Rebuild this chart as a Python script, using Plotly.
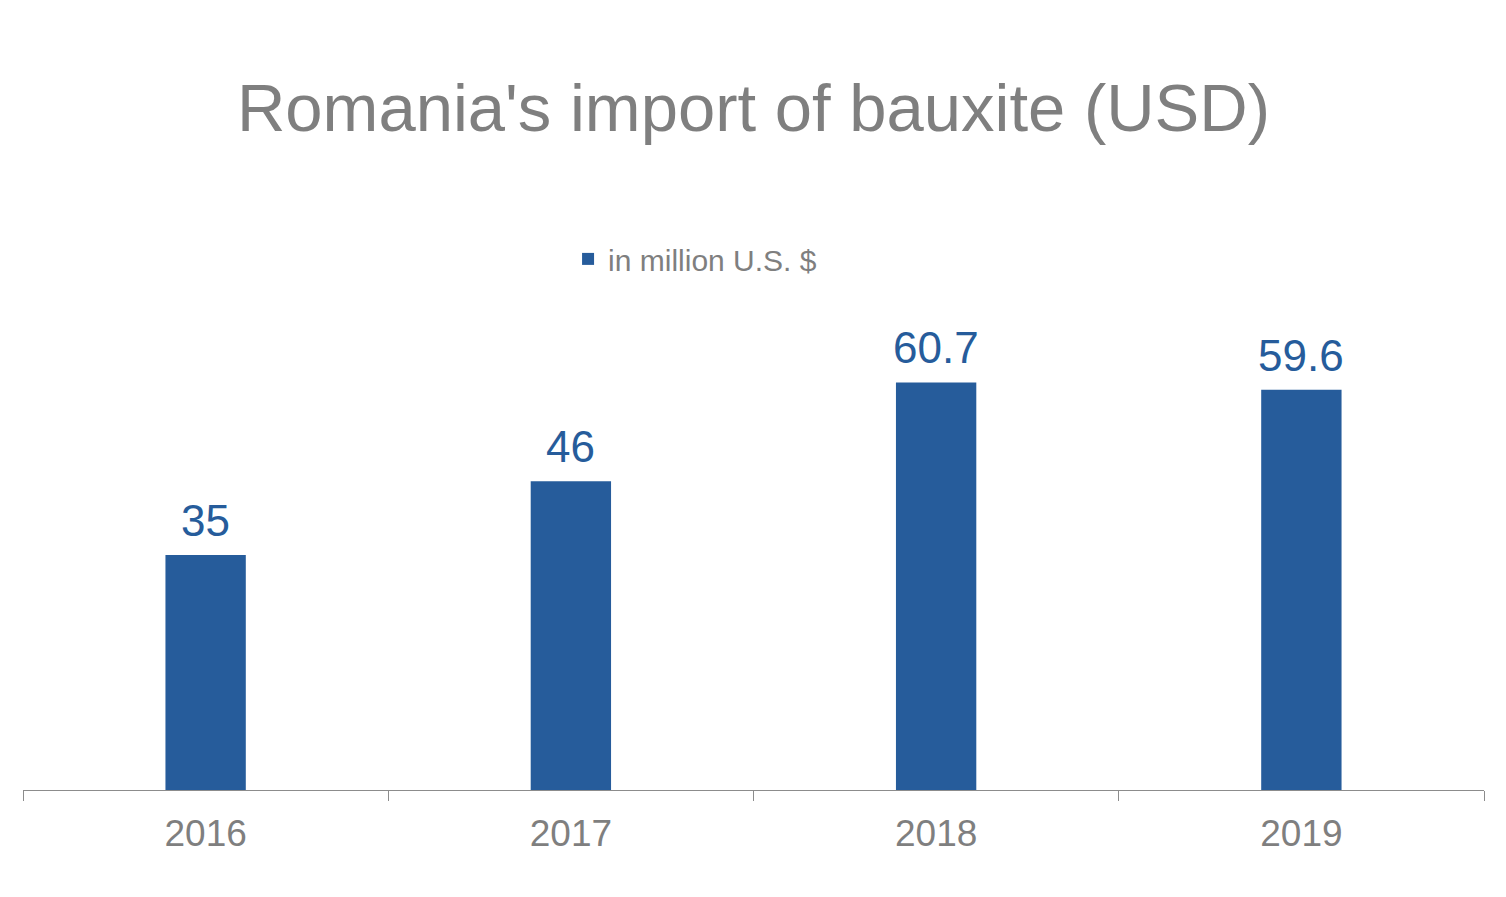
import plotly.graph_objects as go

# --- DATA ---
years = ["2016", "2017", "2018", "2019"]
imports_musd = [35, 46, 60.7, 59.6]
labels = ["35", "46", "60.7", "59.6"]

BAR_COLOR = "#265C9B"
GRAY = "#7F7F7F"
FONT = "Liberation Sans, Arial, sans-serif"

fig = go.Figure()

fig.add_trace(
    go.Bar(
        x=years,
        y=imports_musd,
        name="in million U.S. $",
        marker=dict(color=BAR_COLOR, line=dict(width=0)),
        width=0.22,
    )
)

# value labels above the bars (category index on x, value on y)
for i, (val, lab) in enumerate(zip(imports_musd, labels)):
    fig.add_annotation(
        x=i,
        y=val,
        text=lab,
        showarrow=False,
        yanchor="bottom",
        yshift=8,
        font=dict(family=FONT, size=44, color=BAR_COLOR),
    )

# page body adds an 8px offset, margins compensate
fig.update_layout(
    width=1506,
    height=897,
    paper_bgcolor="white",
    plot_bgcolor="white",
    margin=dict(l=15, r=30, t=312, b=115),
    title=dict(
        text="Romania's import of bauxite (USD)",
        x=0.495,
        xanchor="center",
        y=1 - 100 / 897,
        yanchor="middle",
        font=dict(family=FONT, size=67, color=GRAY),
    ),
    showlegend=True,
    legend=dict(
        orientation="h",
        x=0.46,
        xanchor="center",
        y=1.13,
        yanchor="middle",
        font=dict(family=FONT, size=30, color=GRAY),
        bgcolor="rgba(0,0,0,0)",
    ),
    xaxis=dict(
        type="category",
        categoryorder="array",
        categoryarray=years,
        showline=True,
        linecolor="#8C8C8C",
        linewidth=1,
        ticks="outside",
        tickson="boundaries",
        ticklen=10,
        tickcolor="#8C8C8C",
        tickangle=0,
        ticklabelstandoff=11,
        tickfont=dict(family=FONT, size=37, color=GRAY),
        showgrid=False,
    ),
    yaxis=dict(
        range=[0, 70],
        visible=False,
        showgrid=False,
        zeroline=False,
    ),
)

fig.write_html("out.html")
